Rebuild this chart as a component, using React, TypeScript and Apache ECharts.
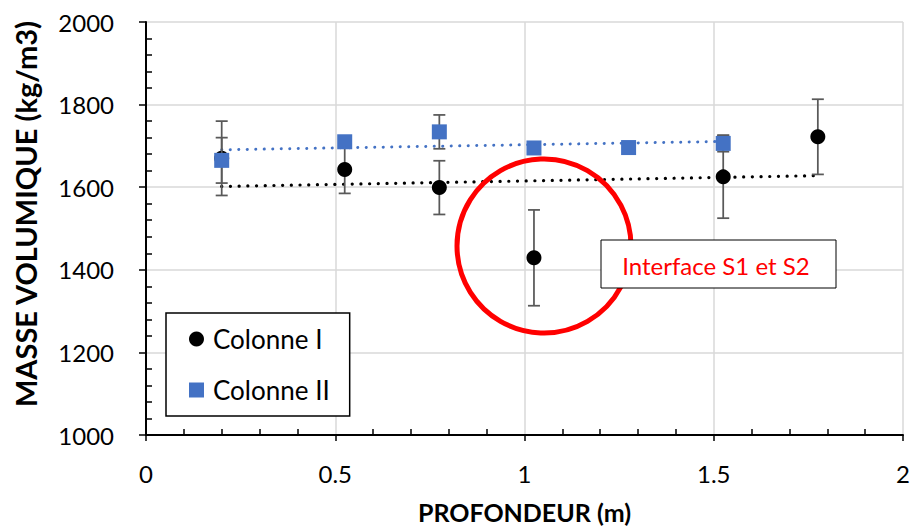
import React, { useEffect, useRef } from "react";
import * as echarts from "echarts";

// Colonne I
const depthI = [0.2, 0.525, 0.775, 1.025, 1.525, 1.775];
const densityI = [1670, 1643, 1599, 1429, 1625, 1722];
const errorI = [90, 58, 65, 116, 100, 91];

// Colonne II
const depthII = [0.2, 0.525, 0.775, 1.025, 1.275, 1.525];
const densityII = [1665, 1710, 1734, 1695, 1696, 1706];
const errorII = [55, 0, 41, 0, 0, 20];

const xTicks = [0, 0.5, 1, 1.5, 2];
const yTicks = [1000, 1200, 1400, 1600, 1800, 2000];

const FONT = "Lato";

function linearFit(xs: number[], ys: number[]): number[][] {
  const n = xs.length;
  const mx = xs.reduce((a, b) => a + b, 0) / n;
  const my = ys.reduce((a, b) => a + b, 0) / n;
  let sxy = 0;
  let sxx = 0;
  for (let i = 0; i < n; i++) {
    sxy += (xs[i] - mx) * (ys[i] - my);
    sxx += (xs[i] - mx) * (xs[i] - mx);
  }
  const slope = sxy / sxx;
  const x0 = Math.min(...xs);
  const x1 = Math.max(...xs);
  return [
    [x0, my + slope * (x0 - mx)],
    [x1, my + slope * (x1 - mx)],
  ];
}

function errorSeries(name: string, xs: number[], ys: number[], es: number[], z: number) {
  return {
    name,
    type: "custom",
    z,
    silent: true,
    encode: { x: 0, y: 1 },
    data: xs.map((x, i) => [x, ys[i], es[i]]).filter((d) => d[2] > 0),
    renderItem: (params: any, api: any) => {
      const x = api.value(0);
      const y = api.value(1);
      const e = api.value(2);
      const top = api.coord([x, y + e]);
      const bot = api.coord([x, y - e]);
      const hw = 6;
      const style = { stroke: "#595959", lineWidth: 1.75 };
      return {
        type: "group",
        children: [
          { type: "line", shape: { x1: top[0], y1: top[1], x2: bot[0], y2: bot[1] }, style },
          { type: "line", shape: { x1: top[0] - hw, y1: top[1], x2: top[0] + hw, y2: top[1] }, style },
          { type: "line", shape: { x1: bot[0] - hw, y1: bot[1], x2: bot[0] + hw, y2: bot[1] }, style },
        ],
      };
    },
  };
}

export default function App() {
  const ref = useRef<HTMLDivElement>(null);

  useEffect(() => {
    if (!ref.current) return;
    const chart = echarts.init(ref.current, null, { renderer: "svg" });
    const option: any = {
      animation: false,
      backgroundColor: "#ffffff",
      grid: { left: 146, right: 9, top: 22, bottom: 94, outerBoundsMode: "none" },
      xAxis: {
        type: "value",
        min: xTicks[0],
        max: xTicks[xTicks.length - 1],
        interval: 0.5,
        name: "PROFONDEUR (m)",
        nameLocation: "middle",
        nameGap: 64,
        nameTextStyle: { fontFamily: FONT, fontWeight: "bold", fontSize: 25, color: "#000" },
        axisLine: { lineStyle: { color: "#000", width: 2 } },
        axisTick: { show: true, length: 6, lineStyle: { color: "#000", width: 1.5 } },
        minorTick: { show: true, splitNumber: 5, length: -6, lineStyle: { color: "#000", width: 1.5 } },
        axisLabel: {
          fontFamily: FONT,
          fontSize: 24,
          color: "#000",
          margin: 26,
          formatter: (v: number) => String(v),
        },
        splitLine: { show: true, lineStyle: { color: "#d9d9d9", width: 1.5 } },
      },
      yAxis: {
        type: "value",
        min: yTicks[0],
        max: yTicks[yTicks.length - 1],
        interval: 200,
        axisLine: { show: true, lineStyle: { color: "#000", width: 2 } },
        axisTick: { show: true, length: 7, lineStyle: { color: "#000", width: 1.5 } },
        minorTick: { show: true, splitNumber: 5, length: -6, lineStyle: { color: "#000", width: 1.5 } },
        axisLabel: {
          fontFamily: FONT,
          fontSize: 24,
          color: "#000",
          margin: 32,
          formatter: (v: number) => String(v),
        },
        splitLine: { show: true, lineStyle: { color: "#d9d9d9", width: 1.5 } },
      },
      legend: {
        data: ["Colonne I", "Colonne II"],
        orient: "vertical",
        left: 166,
        top: 313,
        padding: [13, 20, 13, 23],
        itemGap: 25,
        itemWidth: 15,
        itemHeight: 15,
        borderColor: "#000",
        borderWidth: 1.5,
        backgroundColor: "#fff",
        textStyle: { fontFamily: FONT, fontSize: 26, color: "#000", lineHeight: 26, padding: [0, 0, 0, 4] },
      },
      graphic: [
        {
          type: "text",
          x: 25,
          y: 214,
          rotation: Math.PI / 2,
          style: {
            text: "MASSE VOLUMIQUE (kg/m3)",
            fontFamily: FONT,
            fontWeight: "bold",
            fontSize: 29,
            fill: "#000",
            textAlign: "center",
            textVerticalAlign: "middle",
          },
        },
        {
          type: "circle",
          z: 100,
          shape: { cx: 544, cy: 246, r: 87 },
          style: { fill: "none", stroke: "#ff0000", lineWidth: 5 },
        },
        {
          type: "rect",
          z: 101,
          shape: { x: 601, y: 240, width: 235, height: 48 },
          style: { fill: "#ffffff", stroke: "#000", lineWidth: 1 },
        },
        {
          type: "text",
          z: 102,
          x: 716,
          y: 265,
          style: {
            text: "Interface S1 et S2",
            fontFamily: FONT,
            fontSize: 24,
            fill: "#ff0000",
            textAlign: "center",
            textVerticalAlign: "middle",
          },
        },
      ],
      series: [
        {
          name: "Tendance I",
          type: "line",
          z: 2,
          symbol: "none",
          silent: true,
          data: linearFit(depthI, densityI),
          lineStyle: { color: "#000", width: 3.2, type: [0.1, 8.6], cap: "round" },
        },
        {
          name: "Tendance II",
          type: "line",
          z: 2,
          symbol: "none",
          silent: true,
          data: linearFit(depthII, densityII),
          lineStyle: { color: "#4472c4", width: 3, type: [0.1, 8.4], cap: "round" },
        },
        errorSeries("Erreur I", depthI, densityI, errorI, 3),
        {
          name: "Colonne I",
          type: "scatter",
          z: 4,
          symbol: "circle",
          symbolSize: 15,
          itemStyle: { color: "#000", opacity: 1 },
          data: depthI.map((d, i) => [d, densityI[i]]),
        },
        errorSeries("Erreur II", depthII, densityII, errorII, 5),
        {
          name: "Colonne II",
          type: "scatter",
          z: 6,
          symbol: "rect",
          symbolSize: 15,
          itemStyle: { color: "#4472c4", opacity: 1 },
          data: depthII.map((d, i) => [d, densityII[i]]),
        },
      ],
    };
    chart.setOption(option);
    return () => chart.dispose();
  }, []);

  return <div ref={ref} style={{ width: 912, height: 529, position: "absolute", left: 0, top: 0 }} />;
}
